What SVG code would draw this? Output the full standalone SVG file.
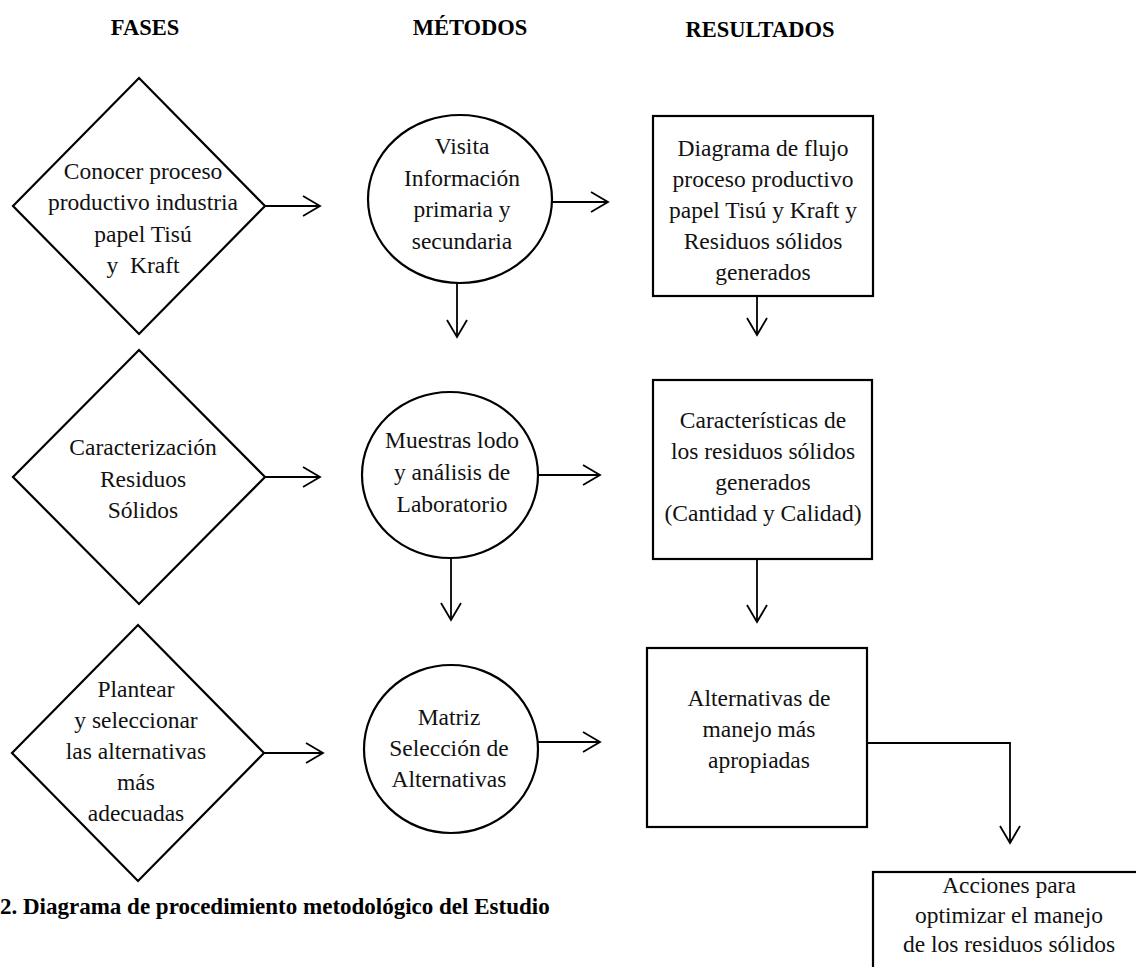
<svg xmlns="http://www.w3.org/2000/svg" width="1136" height="967" viewBox="0 0 1136 967">
<defs>
<style>
.shape{fill:#fff;stroke:#000;stroke-width:2.2}
.conn{fill:none;stroke:#000;stroke-width:1.8}
.t{font-family:"Liberation Serif","Times New Roman",serif;font-size:23.5px;fill:#111;text-anchor:middle}
.h{font-family:"Liberation Serif","Times New Roman",serif;font-size:22.5px;font-weight:bold;fill:#000;text-anchor:middle}
.cap{font-family:"Liberation Serif","Times New Roman",serif;font-size:23px;font-weight:bold;fill:#000}
</style>
<marker id="arr" markerUnits="userSpaceOnUse" markerWidth="22" markerHeight="24" refX="18" refY="11" orient="auto">
<path d="M1,1 L18,11 L1,21" fill="none" stroke="#000" stroke-width="1.8"/>
</marker>
</defs>
<rect width="1136" height="967" fill="#fff"/>
<g id="headers">
<text class="h" x="145" y="35">FASES</text>
<text class="h" x="470" y="35">MÉTODOS</text>
<text class="h" x="760" y="37">RESULTADOS</text>
</g>
<g id="connectors">
<line class="conn" x1="265" y1="206" x2="320" y2="206" marker-end="url(#arr)"/>
<line class="conn" x1="552" y1="202" x2="608" y2="202" marker-end="url(#arr)"/>
<line class="conn" x1="457" y1="283" x2="457" y2="337" marker-end="url(#arr)"/>
<line class="conn" x1="757" y1="296" x2="757" y2="335" marker-end="url(#arr)"/>
<line class="conn" x1="265" y1="477" x2="320" y2="477" marker-end="url(#arr)"/>
<line class="conn" x1="538" y1="475" x2="600" y2="475" marker-end="url(#arr)"/>
<line class="conn" x1="451" y1="558" x2="451" y2="620" marker-end="url(#arr)"/>
<line class="conn" x1="757" y1="559" x2="757" y2="622" marker-end="url(#arr)"/>
<line class="conn" x1="263" y1="753" x2="323" y2="753" marker-end="url(#arr)"/>
<line class="conn" x1="537" y1="742" x2="600" y2="742" marker-end="url(#arr)"/>
<polyline class="conn" points="867,743 1010,743 1010,843" marker-end="url(#arr)"/>
</g>
<g id="fase1">
<polygon class="shape" points="139,78 265,206 139,334 13,206"/>
<text class="t" x="143" y="179">Conocer proceso</text>
<text class="t" x="143" y="210">productivo industria</text>
<text class="t" x="143" y="242">papel Tisú</text>
<text class="t" x="143" y="273" xml:space="preserve">y  Kraft</text>
</g>
<g id="metodo1">
<ellipse class="shape" cx="460" cy="199" rx="92" ry="84"/>
<text class="t" x="462" y="154">Visita</text>
<text class="t" x="462" y="186">Información</text>
<text class="t" x="462" y="217">primaria y</text>
<text class="t" x="462" y="249">secundaria</text>
</g>
<g id="resultado1">
<rect class="shape" x="653" y="116" width="220" height="180"/>
<text class="t" x="763" y="156">Diagrama de flujo</text>
<text class="t" x="763" y="187">proceso productivo</text>
<text class="t" x="763" y="218">papel Tisú y Kraft y</text>
<text class="t" x="763" y="249">Residuos sólidos</text>
<text class="t" x="763" y="280">generados</text>
</g>
<g id="fase2">
<polygon class="shape" points="139,350 265,477 139,604 13,477"/>
<text class="t" x="143" y="455">Caracterización</text>
<text class="t" x="143" y="487">Residuos</text>
<text class="t" x="143" y="518">Sólidos</text>
</g>
<g id="metodo2">
<ellipse class="shape" cx="450" cy="475" rx="88" ry="83"/>
<text class="t" x="452" y="448">Muestras lodo</text>
<text class="t" x="452" y="480">y análisis de</text>
<text class="t" x="452" y="512">Laboratorio</text>
</g>
<g id="resultado2">
<rect class="shape" x="653" y="380" width="219" height="179"/>
<text class="t" x="763" y="428">Características de</text>
<text class="t" x="763" y="459">los residuos sólidos</text>
<text class="t" x="763" y="490">generados</text>
<text class="t" x="763" y="521">(Cantidad y Calidad)</text>
</g>
<g id="fase3">
<polygon class="shape" points="138,625 264,753 138,881 12,753"/>
<text class="t" x="136" y="697">Plantear</text>
<text class="t" x="136" y="728">y seleccionar</text>
<text class="t" x="136" y="759">las alternativas</text>
<text class="t" x="136" y="790">más</text>
<text class="t" x="136" y="821">adecuadas</text>
</g>
<g id="metodo3">
<ellipse class="shape" cx="451" cy="749" rx="87" ry="84"/>
<text class="t" x="449" y="725">Matriz</text>
<text class="t" x="449" y="756">Selección de</text>
<text class="t" x="449" y="787">Alternativas</text>
</g>
<g id="resultado3">
<rect class="shape" x="647" y="648" width="220" height="179"/>
<text class="t" x="759" y="706">Alternativas de</text>
<text class="t" x="759" y="737">manejo más</text>
<text class="t" x="759" y="768">apropiadas</text>
</g>
<g id="acciones">
<rect class="shape" x="873" y="872" width="275" height="120"/>
<text class="t" x="1009" y="893">Acciones para</text>
<text class="t" x="1009" y="923">optimizar el manejo</text>
<text class="t" x="1009" y="952">de los residuos sólidos</text>
</g>
<g id="caption">
<text class="cap" x="0" y="914">2. Diagrama de procedimiento metodológico del Estudio</text>
</g>
</svg>
